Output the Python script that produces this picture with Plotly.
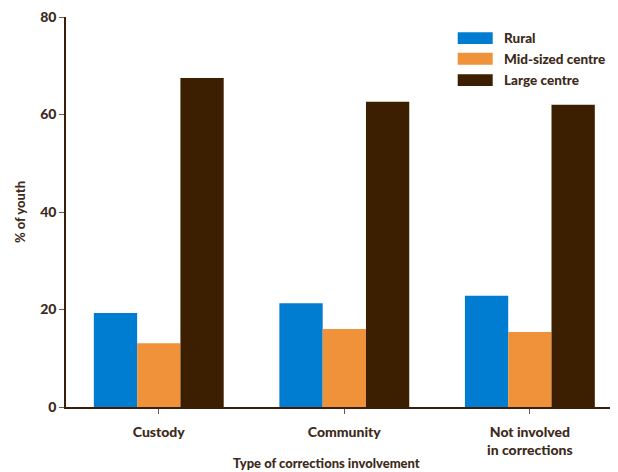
import plotly.graph_objects as go

categories = ["Custody", "Community", "Not involved<br>in corrections"]
series_names = ["Rural", "Mid-sized centre", "Large centre"]
rural = [19.3, 21.3, 22.8]
mid_sized = [13.1, 16.0, 15.4]
large = [67.5, 62.6, 62.0]
colors = ["#007cd0", "#f0923a", "#3c1f00"]
y_ticks = [0, 20, 40, 60, 80]
x_title = "Type of corrections involvement"
y_title = "% of youth"

FONT = "Lato, 'Open Sans', sans-serif"
TXT = "#3d2a1a"
AX = "#3b1f0a"
W = 900

fig = go.Figure()
for name, vals, c in zip(series_names, [rural, mid_sized, large], colors):
    fig.add_trace(go.Bar(x=categories, y=vals, name=name, marker=dict(color=c, line=dict(width=0)),
                         showlegend=False))

# custom legend (wide swatches)
leg_y = [0.946, 0.893, 0.838]
for name, c, yy in zip(series_names, colors, leg_y):
    fig.add_shape(type="rect", xref="paper", yref="paper", x0=0.7096, x1=0.773,
                  y0=yy - 0.0152, y1=yy + 0.0152, fillcolor=c, line=dict(width=0))
    fig.add_annotation(xref="paper", yref="paper", x=0.789, y=yy, text=name,
                       showarrow=False, xanchor="left", yanchor="middle",
                       font=dict(family=FONT, size=13.5, color=TXT, weight=W))

# x-axis title (slightly left of centre, as in the reference)
fig.add_annotation(xref="paper", yref="paper", x=0.472, y=0, yshift=-56, text=x_title,
                   showarrow=False, xanchor="center", yanchor="middle",
                   font=dict(family=FONT, size=13, color=TXT, weight=W))

fig.update_layout(
    width=610, height=464,
    margin=dict(l=58, r=0, t=9, b=65, autoexpand=False),
    paper_bgcolor="white", plot_bgcolor="white",
    barmode="group", bargap=0.30, bargroupgap=0,
    font=dict(family=FONT, size=13, color=TXT),
    xaxis=dict(range=[-0.5, 2.475], showline=True, linecolor=AX, linewidth=1.5,
               ticks="outside", ticklen=5, tickcolor="#6b5a4a", showgrid=False, automargin=False,
               ticklabeloverflow="allow", ticklabelstandoff=6,
               tickfont=dict(family=FONT, size=14, color=TXT, weight=W)),
    yaxis=dict(range=[0, 80], tickvals=y_ticks, showline=True, linecolor=AX, linewidth=1.5,
               ticks="outside", ticklen=5, tickcolor="#6b5a4a", showgrid=False, zeroline=False,
               automargin=False, ticklabeloverflow="allow",
               tickfont=dict(family=FONT, size=14, color=TXT, weight=W),
               title=dict(text=y_title, standoff=12,
                          font=dict(family=FONT, size=13, color=TXT, weight=W))),
)

fig.write_html("out.html")
